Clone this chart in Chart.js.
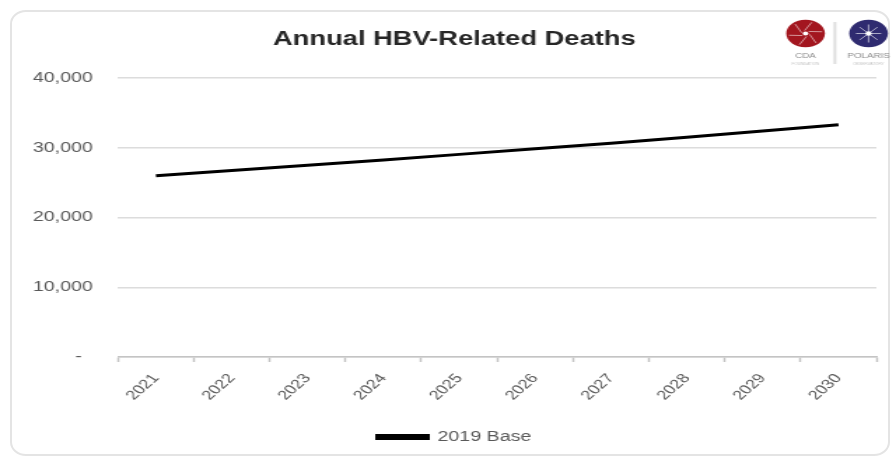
<!DOCTYPE html>
<html>
<head>
<meta charset="utf-8">
<script src="https://cdn.jsdelivr.net/npm/chart.js@4.4.1/dist/chart.umd.min.js"></script>
<style>
  html, body { margin: 0; padding: 0; background: #fff; width: 893px; height: 459px; overflow: hidden; }
  #card {
    position: absolute; left: 10px; top: 10px; width: 876px; height: 442px;
    border: 2px solid #e4e4e4; border-radius: 16px / 14px;
  }
  /* chart is laid out narrow and stretched sideways to the full width */
  #wrap {
    position: absolute; left: 0; top: 0; width: 638px; height: 459px;
    transform: scaleX(1.4); transform-origin: 0 0;
  }
</style>
</head>
<body>
<div id="card"></div>
<div id="wrap"><canvas id="deathsChart"></canvas></div>
<script>
const years = ['2021', '2022', '2023', '2024', '2025', '2026', '2027', '2028', '2029', '2030'];
const baseDeaths = [26000, 26750, 27500, 28250, 29050, 29850, 30650, 31500, 32400, 33300];
const yTicks = [0, 10000, 20000, 30000, 40000];

const FONT = "Arial, 'Liberation Sans', sans-serif";

// small partner marks in the top-right corner
const logoPlugin = {
  id: 'logos',
  afterDraw(chart) {
    const ctx = chart.ctx;
    ctx.save();

    // red rosette
    ctx.fillStyle = '#a3161f';
    ctx.beginPath();
    ctx.arc(575.4, 33.5, 13.8, 0, Math.PI * 2);
    ctx.fill();
    ctx.strokeStyle = 'rgba(255,255,255,0.55)';
    ctx.lineWidth = 1;
    for (let i = 0; i < 6; i++) {
      const a = i * Math.PI / 3 + 0.3;
      ctx.beginPath();
      ctx.moveTo(575.4 + Math.cos(a) * 3, 33.5 + Math.sin(a) * 3);
      ctx.lineTo(575.4 + Math.cos(a + 0.6) * 12, 33.5 + Math.sin(a + 0.6) * 12);
      ctx.stroke();
    }
    ctx.fillStyle = '#fff';
    ctx.beginPath();
    ctx.arc(575.4, 33.5, 2, 0, Math.PI * 2);
    ctx.fill();

    // separator
    ctx.fillStyle = '#dedede';
    ctx.fillRect(595.4, 22, 2, 42);

    // blue star badge
    ctx.fillStyle = '#2f2b70';
    ctx.beginPath();
    ctx.arc(620.4, 33.5, 13.8, 0, Math.PI * 2);
    ctx.fill();
    ctx.strokeStyle = 'rgba(255,255,255,0.6)';
    for (let i = 0; i < 8; i++) {
      const a = i * Math.PI / 4;
      ctx.beginPath();
      ctx.moveTo(620.4, 33.5);
      ctx.lineTo(620.4 + Math.cos(a) * 9, 33.5 + Math.sin(a) * 9);
      ctx.stroke();
    }
    ctx.fillStyle = '#fff';
    ctx.beginPath();
    ctx.arc(620.4, 33.5, 2.2, 0, Math.PI * 2);
    ctx.fill();

    // captions
    ctx.textAlign = 'center';
    ctx.textBaseline = 'middle';
    ctx.fillStyle = '#8a8a8a';
    ctx.font = '7px ' + FONT;
    ctx.fillText('CDA', 575.4, 56.5);
    ctx.fillText('POLARIS', 620.4, 56.5);
    ctx.fillStyle = '#c4c4c4';
    ctx.font = '3px ' + FONT;
    ctx.fillText('FOUNDATION', 575.4, 64);
    ctx.fillText('OBSERVATORY', 620.4, 64);
    ctx.restore();
  }
};

new Chart(document.getElementById('deathsChart').getContext('2d'), {
  type: 'line',
  data: {
    labels: years,
    datasets: [
      {
        label: '2019 Base',
        data: baseDeaths,
        borderColor: '#000',
        backgroundColor: '#000',
        borderWidth: 3,
        pointRadius: 0,
        tension: 0,
        fill: false
      }
    ]
  },
  options: {
    responsive: true,
    maintainAspectRatio: false,
    animation: false,
    layout: { padding: { left: 23, right: 12, top: 0, bottom: 5 } },
    scales: {
      x: {
        offset: true,
        grid: { display: true, drawOnChartArea: false, offset: true, tickLength: 5, tickWidth: 1.5, tickColor: '#c4c4c4' },
        border: { display: true, color: '#c4c4c4', width: 1.5 },
        ticks: {
          autoSkip: false,
          // steeper than 45° so it still reads diagonal after the sideways stretch
          maxRotation: 50,
          minRotation: 50,
          padding: 9,
          color: '#595959',
          font: { family: FONT, size: 13 }
        },
        afterFit: (scale) => { scale.height = 63; }
      },
      y: {
        min: 0,
        max: 40000,
        afterBuildTicks: (scale) => { scale.ticks = yTicks.map((v) => ({ value: v })); },
        grid: { color: '#dcdcdc', lineWidth: 1.5, drawTicks: false },
        border: { display: false },
        ticks: {
          padding: 18,
          color: '#595959',
          font: { family: FONT, size: 14 },
          callback: (v) => (v === 0 ? '-  ' : v.toLocaleString('en-US'))
        },
        afterFit: (scale) => { scale.width = 61.3; }
      }
    },
    plugins: {
      title: {
        display: true,
        text: 'Annual HBV-Related Deaths',
        color: '#262626',
        font: { family: FONT, size: 19.5, weight: 'bold' },
        padding: { top: 28.3, bottom: 26.3 }
      },
      legend: {
        display: true,
        position: 'bottom',
        labels: {
          boxWidth: 36,
          boxHeight: 3,
          padding: 10,
          color: '#595959',
          font: { family: FONT, size: 14 }
        }
      },
      tooltip: { enabled: false }
    }
  },
  plugins: [logoPlugin]
});
</script>
</body>
</html>
